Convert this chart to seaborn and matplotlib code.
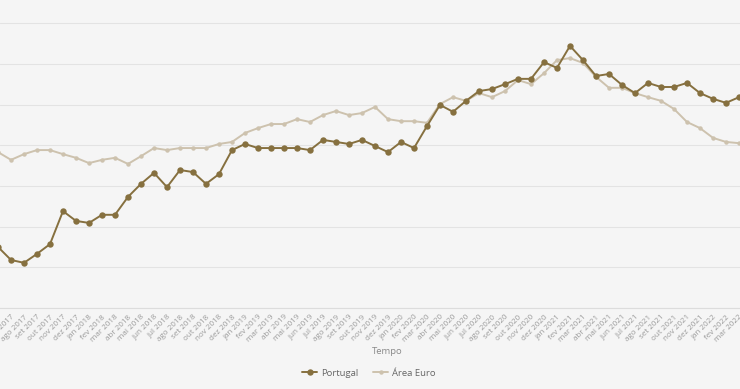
import numpy as np
import pandas as pd
import matplotlib
matplotlib.use('Agg')
import matplotlib.pyplot as plt
import seaborn as sns

months = ['jun 2017', 'jul 2017', 'ago 2017', 'set 2017', 'out 2017', 'nov 2017', 'dez 2017',
          'jan 2018', 'fev 2018', 'mar 2018', 'abr 2018', 'mai 2018', 'jun 2018', 'jul 2018',
          'ago 2018', 'set 2018', 'out 2018', 'nov 2018', 'dez 2018',
          'jan 2019', 'fev 2019', 'mar 2019', 'abr 2019', 'mai 2019', 'jun 2019', 'jul 2019',
          'ago 2019', 'set 2019', 'out 2019', 'nov 2019', 'dez 2019',
          'jan 2020', 'fev 2020', 'mar 2020', 'abr 2020', 'mai 2020', 'jun 2020', 'jul 2020',
          'ago 2020', 'set 2020', 'out 2020', 'nov 2020', 'dez 2020',
          'jan 2021', 'fev 2021', 'mar 2021', 'abr 2021', 'mai 2021', 'jun 2021', 'jul 2021',
          'ago 2021', 'set 2021', 'out 2021', 'nov 2021', 'dez 2021',
          'jan 2022', 'fev 2022', 'mar 2022', 'abr 2022']

portugal = [1.50, 1.18, 1.11, 1.33, 1.57, 2.38, 2.14, 2.09, 2.29, 2.29,
            2.73, 3.05, 3.32, 2.97, 3.39, 3.34, 3.05, 3.29, 3.88, 4.03,
            3.93, 3.93, 3.93, 3.93, 3.88, 4.13, 4.08, 4.03, 4.13, 3.98,
            3.83, 4.08, 3.93, 4.47, 4.99, 4.82, 5.09, 5.33, 5.38, 5.50,
            5.63, 5.63, 6.04, 5.90, 6.44, 6.09, 5.70, 5.75, 5.48, 5.28,
            5.53, 5.43, 5.43, 5.53, 5.28, 5.14, 5.04, 5.18, 5.25]

area_euro = [3.83, 3.64, 3.78, 3.88, 3.88, 3.78, 3.69, 3.56, 3.64, 3.69,
             3.54, 3.73, 3.93, 3.88, 3.93, 3.93, 3.93, 4.03, 4.08, 4.30,
             4.42, 4.52, 4.52, 4.64, 4.57, 4.74, 4.84, 4.74, 4.79, 4.94,
             4.64, 4.59, 4.59, 4.55, 5.01, 5.18, 5.09, 5.28, 5.18, 5.33,
             5.60, 5.50, 5.77, 6.09, 6.14, 6.02, 5.68, 5.41, 5.41, 5.28,
             5.18, 5.09, 4.89, 4.57, 4.42, 4.18, 4.08, 4.05, 4.00]

pos = np.arange(len(months))
df = pd.DataFrame({'pos': pos, 'Portugal': portugal, 'Área Euro': area_euro})

bg = '#f5f5f5'
sns.set_style('white')
plt.rcParams['font.family'] = ['Open Sans', 'DejaVu Sans']

fig = plt.figure(figsize=(7.4, 3.89), dpi=100, facecolor=bg)
# the reference is a crop, so the plot runs off both sides of the figure
ax = fig.add_axes([0, 81 / 389, 1, 308 / 389])
ax.set_facecolor(bg)

sns.lineplot(data=df, x='pos', y='Área Euro', ax=ax, color='#cdc2ae', lw=1.4,
             marker='o', markersize=3.2, markeredgewidth=0, label='Área Euro', zorder=3)
sns.lineplot(data=df, x='pos', y='Portugal', ax=ax, color='#86703f', lw=1.4,
             marker='o', markersize=4.6, markeredgewidth=0, label='Portugal', zorder=4)

ax.set_xticks(pos)
ax.set_xticklabels(months, rotation=45, ha='right', rotation_mode='anchor',
                   fontsize=5.8, color='#9a9a9a')
ax.tick_params(axis='x', length=0, pad=4)
ax.set_xlim(2 / 13, 2 / 13 + 740 / 13)

ax.set_yticks(range(0, 8))
ax.set_ylim(0, 308 / 40.7)
ax.yaxis.grid(True, color='#e3e3e3', lw=0.8)
ax.set_yticklabels([])
ax.tick_params(axis='y', length=0)
for s in ['top', 'right', 'left']:
    ax.spines[s].set_visible(False)
ax.spines['bottom'].set_color('#dcdcdc')
ax.spines['bottom'].set_linewidth(0.8)
ax.set_xlabel('')
ax.set_ylabel('')

fig.text(387 / 740, 1 - 351 / 389, 'Tempo', ha='center', va='center',
         fontsize=6.8, color='#8a8a8a')

h, l = ax.get_legend_handles_labels()
ax.get_legend().remove()
order = [l.index('Portugal'), l.index('Área Euro')]
fig.legend([h[i] for i in order], [l[i] for i in order], loc='center',
           bbox_to_anchor=(369 / 740, 1 - 373 / 389), ncol=2, frameon=False,
           fontsize=6.8, labelcolor='#666666', handlelength=1.6, columnspacing=1.6,
           handletextpad=0.4)

fig.savefig('out.png', dpi=100, facecolor=bg)
